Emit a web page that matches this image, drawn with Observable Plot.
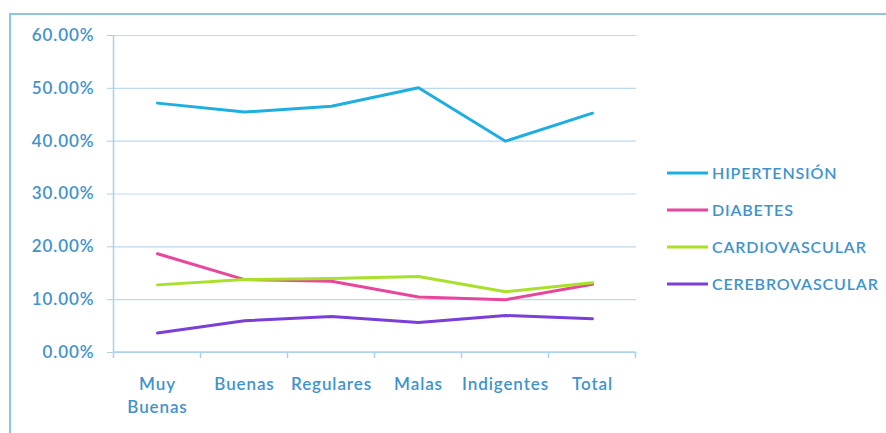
<!DOCTYPE html>
<html><head><meta charset="utf-8">
<script src="https://cdn.jsdelivr.net/npm/d3@7"></script>
<script src="https://cdn.jsdelivr.net/npm/@observablehq/plot@0.6"></script>
<style>
html,body{margin:0;padding:0;background:#fff;overflow:hidden;width:886px;height:433px;}
#frame{position:absolute;left:9px;top:13px;width:1000px;height:1000px;border-left:2px solid #8fc4e4;border-top:2px solid #8fc4e4;box-sizing:border-box;}
#chart{position:absolute;left:0;top:0;}
#legend{position:absolute;left:667px;top:160px;font-family:Lato,"Open Sans",sans-serif;font-size:16px;font-weight:600;letter-spacing:0.85px;color:#3f93cc;}
#legend .row{height:37px;display:flex;align-items:center;white-space:nowrap;margin-top:0;}
#legend .row svg{margin-right:4px;}
#legend .row:first-child{margin-top:-6px}
</style>
</head><body>
<div id="frame"></div>
<div id="chart"></div>
<div id="legend"></div>
<script>
const categories = ["Muy Buenas","Buenas","Regulares","Malas","Indigentes","Total"];
const series = ["HIPERTENSIÓN","DIABETES","CARDIOVASCULAR","CEREBROVASCULAR"];
const hipertension   = [0.472,0.455,0.466,0.501,0.400,0.453];
const diabetes       = [0.187,0.138,0.135,0.105,0.100,0.129];
const cardiovascular = [0.128,0.138,0.140,0.144,0.115,0.132];
const cerebrovascular= [0.037,0.060,0.068,0.057,0.070,0.064];
const colors = ["#1eaee2","#e8469c","#a8e02a","#7a3fd8"];
const yTicks = [0,0.1,0.2,0.3,0.4,0.5,0.6];

const valuesBySeries = [hipertension, diabetes, cardiovascular, cerebrovascular];
const data = [];
series.forEach((s,i)=>categories.forEach((c,j)=>data.push({serie:s,cat:c,value:valuesBySeries[i][j]})));

const axisColor = "#a9d0ea";
const textColor = "#3f93cc";

function frameAndTicks(index, scales, values, dims) {
  const x = scales.x, y = scales.y;
  const step = x(categories[1]) - x(categories[0]);
  const bounds = categories.map(c => x(c) - step/2).concat([x(categories[categories.length-1]) + step/2]);
  const g = d3.create("svg:g").attr("stroke", axisColor).attr("stroke-width", 1.5);
  g.append("line").attr("x1", bounds[0]).attr("x2", bounds[0]).attr("y1", y(0.6)).attr("y2", y(0));
  g.append("line").attr("x1", bounds[0]).attr("x2", bounds[bounds.length-1]).attr("y1", y(0)).attr("y2", y(0));
  for (const b of bounds) g.append("line").attr("x1", b).attr("x2", b).attr("y1", y(0)).attr("y2", y(0)+6);
  return g.node();
}

const chart = Plot.plot({
  width: 886, height: 433,
  marginLeft: 112, marginRight: 250, marginTop: 35, marginBottom: 81,
  style: {fontFamily: "Lato, 'Open Sans', sans-serif", background: "transparent", letterSpacing: "0.9px"},
  x: {type: "point", domain: categories, padding: 0.5, axis: null},
  y: {domain: [0, 0.6], axis: null},
  color: {domain: series, range: colors},
  marks: [
    Plot.gridY(yTicks, {stroke: "#bcd9ee", strokeOpacity: 1, strokeWidth: 1.2}),
    Plot.axisY({ticks: yTicks, tickFormat: d3.format(".2%"), tickSize: 5, tickPadding: 13, stroke: axisColor, fill: textColor, fontSize: 17, fontWeight: 600, label: null}),
    Plot.axisX({tickSize: 0, tickPadding: 21, fill: textColor, fontSize: 17, fontWeight: 600, lineHeight: 1.35, label: null,
      tickFormat: d => d === "Muy Buenas" ? "Muy\nBuenas" : d}),
    frameAndTicks,
    Plot.line(data, {x: "cat", y: "value", z: "serie", stroke: "serie", strokeWidth: 3})
  ]
});
document.getElementById("chart").appendChild(chart);

const legend = d3.select("#legend");
series.forEach((s,i) => {
  const row = legend.append("div").attr("class","row");
  const svg = row.append("svg").attr("width",41).attr("height",4);
  svg.append("line").attr("x1",0).attr("x2",41).attr("y1",2).attr("y2",2).attr("stroke",colors[i]).attr("stroke-width",3);
  row.append("span").text(s);
});
</script>
</body></html>
